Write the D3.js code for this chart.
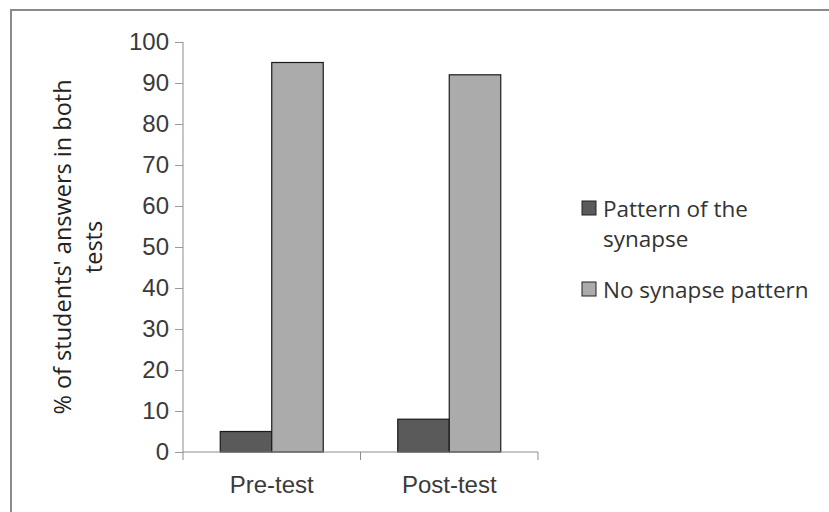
<!DOCTYPE html>
<html>
<head>
<meta charset="utf-8">
<script src="https://cdn.jsdelivr.net/npm/d3@7"></script>
<style>
  body { margin: 0; background: #fff; }
  svg { display: block; font-family: "Open Sans", sans-serif; }
</style>
</head>
<body>
<svg id="chart"></svg>
<script>
// data
const tests = ["Pre-test", "Post-test"];
const seriesNames = ["Pattern of the synapse", "No synapse pattern"];
const patternValues = [5, 8];
const noPatternValues = [95, 92];
const yTicks = [0, 10, 20, 30, 40, 50, 60, 70, 80, 90, 100];

const W = 829, H = 512;
const margin = { top: 42, right: 291, bottom: 60, left: 183 };
const width = W - margin.left - margin.right,
    height = H - margin.top - margin.bottom;

const svg = d3.select("#chart")
    .attr("width", W)
    .attr("height", H);

// frame (only top and left edges show in the picture)
svg.append("rect")
    .attr("x", 11).attr("y", 10)
    .attr("width", W + 20).attr("height", H + 20)
    .attr("fill", "none")
    .attr("stroke", "#8a8a8a")
    .attr("stroke-width", 2);

const g = svg.append("g")
    .attr("transform", `translate(${margin.left}, ${margin.top})`);

const x = d3.scaleBand()
    .domain(tests)
    .range([0, width]);

const xSub = d3.scaleBand()
    .domain(seriesNames)
    .range([0, 103]);

const y = d3.scaleLinear()
    .domain([0, 100])
    .range([height, 0]);

const color = d3.scaleOrdinal()
    .domain(seriesNames)
    .range(["#5a5a5a", "#ababab"]);

const rows = tests.map((t, i) => ({
    test: t,
    values: [
        { key: seriesNames[0], value: patternValues[i] },
        { key: seriesNames[1], value: noPatternValues[i] }
    ]
}));

// bars
const groups = g.selectAll(".grp")
    .data(rows)
    .enter()
    .append("g")
    .attr("transform", d => `translate(${x(d.test) + x.bandwidth() / 2 - 51.5}, 0)`);

groups.selectAll("rect")
    .data(d => d.values)
    .enter()
    .append("rect")
    .attr("x", d => xSub(d.key))
    .attr("y", d => y(d.value))
    .attr("width", xSub.bandwidth())
    .attr("height", d => y(0) - y(d.value))
    .attr("fill", d => color(d.key))
    .attr("stroke", "#1a1a1a")
    .attr("stroke-width", 1.2);

// y axis
const yAxis = g.append("g")
    .call(d3.axisLeft(y).tickValues(yTicks).tickSize(8).tickPadding(6));
yAxis.select(".domain").attr("stroke", "#8c8c8c").attr("d", `M0,${height}V0`);
yAxis.selectAll(".tick line").attr("stroke", "#9a9a9a");
yAxis.selectAll("text")
    .attr("fill", "#3a3a3a")
    .style("font-size", "24px");

// x axis
const xAxis = g.append("g")
    .attr("transform", `translate(0, ${height})`)
    .call(d3.axisBottom(x).tickSize(0).tickPadding(24));
xAxis.select(".domain").attr("stroke", "#8c8c8c").attr("d", `M0,0H${width}`);
xAxis.selectAll("text")
    .attr("fill", "#3a3a3a")
    .style("font-size", "24px");

// category separators / end ticks
g.selectAll(".xsep")
    .data([0, width / 2, width])
    .enter()
    .append("line")
    .attr("x1", d => d).attr("x2", d => d)
    .attr("y1", height).attr("y2", height + 8)
    .attr("stroke", "#8c8c8c");

// y axis title, two lines
const yTitle = svg.append("text")
    .attr("transform", "translate(63, 247) rotate(-90)")
    .attr("text-anchor", "middle")
    .attr("fill", "#222")
    .style("font-size", "23.5px");
yTitle.append("tspan").attr("x", 0).attr("dy", "0.35em").text("% of students' answers in both");
yTitle.append("tspan").attr("x", 0).attr("dy", "1.3em").text("tests");

// legend
const legend = svg.append("g")
    .attr("transform", "translate(582, 201)");

const legendRows = [
    { key: seriesNames[0], lines: ["Pattern of the", "synapse"], y: 0 },
    { key: seriesNames[1], lines: ["No synapse pattern"], y: 81 }
];

const item = legend.selectAll(".item")
    .data(legendRows)
    .enter()
    .append("g")
    .attr("transform", d => `translate(0, ${d.y})`);

item.append("rect")
    .attr("width", 14).attr("height", 14)
    .attr("fill", d => color(d.key))
    .attr("stroke", "#222")
    .attr("stroke-width", 1);

item.append("text")
    .attr("fill", "#333")
    .style("font-size", "22.5px")
    .selectAll("tspan")
    .data(d => d.lines)
    .enter()
    .append("tspan")
    .attr("x", 21)
    .attr("y", (d, i) => 16 + i * 30)
    .text(d => d);
</script>
</body>
</html>
